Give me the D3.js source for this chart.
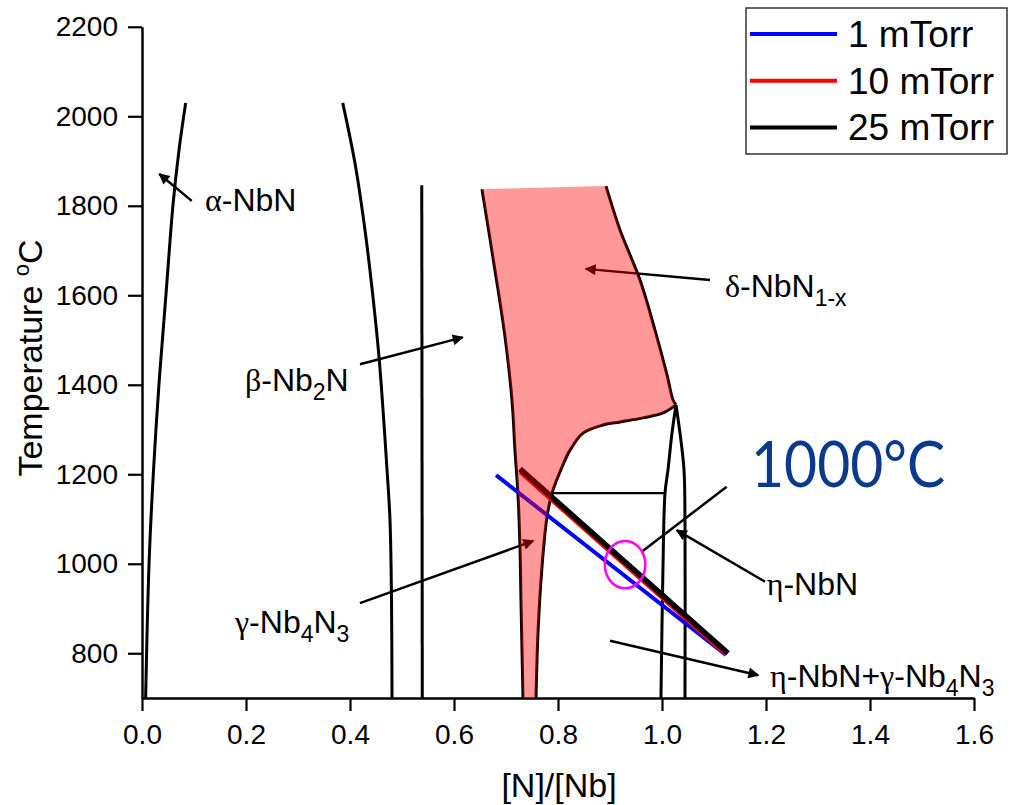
<!DOCTYPE html>
<html>
<head>
<meta charset="utf-8">
<script src="https://cdn.jsdelivr.net/npm/d3@7"></script>
<style>
  body { margin: 0; background: #fff; }
  svg { display: block; font-family: "Liberation Sans", Arial, sans-serif; }
</style>
</head>
<body>
<svg id="chart" width="1016" height="805"></svg>
<script>
// ---- ticks
const xMajor = [0, 0.2, 0.4, 0.6, 0.8, 1.0, 1.2, 1.4, 1.6];
const xMinor = [0.1, 0.3, 0.5, 0.7, 0.9, 1.1, 1.3, 1.5];
const yMajor = [800, 1000, 1200, 1400, 1600, 1800, 2000, 2200];
const yMinor = [700, 900, 1100, 1300, 1500, 1700, 1900, 2100];

// ---- phase boundaries, [N]/[Nb] vs T (°C)
const alphaLine = [[0.007,700],[0.0135,999],[0.0217,1200],[0.0327,1402],[0.0462,1603],[0.0596,1802],[0.0712,1925],[0.084,2030]];
const betaLeft = [[0.386,2030],[0.4096,1895],[0.4288,1746],[0.4442,1596],[0.4558,1462],[0.4635,1344],[0.4712,1210],[0.4769,1098],[0.4798,919],[0.4808,700]];
const betaRight = [[0.538,1846],[0.539,700]];
const deltaLeft = [[0.6538,1837],[0.6788,1656],[0.6981,1507],[0.7115,1366],[0.7173,1254],[0.7231,1154],[0.7269,1037],[0.7288,919],[0.7308,807],[0.7327,700]];
const deltaRight = [[0.8923,1844],[0.9192,1746],[0.9577,1634],[0.9865,1522],[1.0096,1422],[1.0212,1366],[1.0269,1355]];
const gammaRight = [[1.0269,1355],[1.0019,1337],[0.9635,1326],[0.9192,1317],[0.8865,1310],[0.8481,1292],[0.8231,1254],[0.8077,1216],[0.7885,1158],[0.7788,1105],[0.7692,993],[0.7615,845],[0.7577,700]];
const etaLeft = [[1.0269,1355],[1.0192,1292],[1.0115,1210],[1.0058,1158],[1.0019,993],[0.998,700]];
const etaRight = [[1.0269,1355],[1.0346,1292],[1.0423,1210],[1.0442,1098],[1.0442,700]];
const tieLine = [[0.7885,1158],[1.0058,1158]];

// ---- pressure lines
const seriesNames = ["1 mTorr", "10 mTorr", "25 mTorr"];
const seriesColors = ["#0000ff", "#ff0000", "#000000"];
const line1 = [[0.681,1198],[1.123,796]];
const line10 = [[0.727,1205],[1.123,797]];
const line25 = [[0.727,1212],[1.127,800]];

// ---- arrows [from, to]
const arrows = [
  [[0.0956,1811],[0.0333,1871]],
  [[0.4192,1446],[0.6167,1506]],
  [[1.0923,1634],[0.8533,1659]],
  [[0.4192,912],[0.7525,1051]],
  [[1.198,960],[1.0283,1075]],
  [[0.90,828],[1.1852,751]]
];
const calloutLine = [[0.961,1027],[1.1244,1172]];
const circleCenter = [0.929, 998];
const circleRadius = [0.039, 53];

// ---- labels: position (data) and parts [text, kind]
const labelPos = [[0.1212,1788],[0.198,1385],[1.121,1597],[0.1788,845],[1.2013,930],[1.2077,725]];
const labelParts = [
  [["α","g"],["-NbN",""]],
  [["β","g"],["-Nb",""],["2","s"],["N",""]],
  [["δ","g"],["-NbN",""],["1-x","s"]],
  [["γ","g"],["-Nb",""],["4","s"],["N",""],["3","s"]],
  [["η","g"],["-NbN",""]],
  [["η","g"],["-NbN+",""],["γ","g"],["-Nb",""],["4","s"],["N",""],["3","s"]]
];

const svg = d3.select("#chart");
const x = d3.scaleLinear().domain([0, 1.6]).range([142, 974]);
const y = d3.scaleLinear().domain([700, 2200]).range([698, 26.8]);

// arrow head
svg.append("defs").append("marker")
  .attr("id", "head")
  .attr("viewBox", "0 -5 10 10")
  .attr("refX", 9).attr("refY", 0)
  .attr("markerWidth", 19).attr("markerHeight", 11)
  .attr("markerUnits", "userSpaceOnUse")
  .attr("orient", "auto")
  .append("path").attr("d", "M0,-5L10,0L0,5Z").attr("fill", "#000");

// axes
const gx = svg.append("g").attr("transform", `translate(0,${y(700)})`);
gx.call(d3.axisBottom(x).tickValues(xMinor).tickSize(6).tickSizeOuter(0).tickFormat(""));
gx.call(d3.axisBottom(x).tickValues(xMajor).tickSize(13).tickPadding(13).tickSizeOuter(0).tickFormat(d3.format(".1f")));
const gy = svg.append("g").attr("transform", `translate(${x(0)},0)`);
gy.call(d3.axisLeft(y).tickValues(yMinor).tickSize(7).tickSizeOuter(0).tickFormat(""));
gy.call(d3.axisLeft(y).tickValues(yMajor).tickSize(14).tickPadding(10).tickSizeOuter(0).tickFormat(d3.format("d")));
svg.selectAll(".domain").attr("stroke", "#000").attr("stroke-width", 2.5);
svg.selectAll(".tick line").attr("stroke", "#000").attr("stroke-width", 2.2);
svg.selectAll(".tick text").attr("font-size", 28).attr("font-family", "Liberation Sans, Arial, sans-serif").attr("fill", "#000");

// axis titles
svg.append("text").attr("x", 559).attr("y", 797).attr("text-anchor", "middle")
  .attr("font-size", 34).text("[N]/[Nb]");
const yt = svg.append("text").attr("transform", "translate(42,358) rotate(-90)")
  .attr("text-anchor", "middle").attr("font-size", 34);
yt.append("tspan").text("Temperature ");
yt.append("tspan").attr("font-size", 22).attr("dy", -13).text("o");
yt.append("tspan").attr("dy", 13).text("C");

// boundaries
const smooth = d3.line().x(d => x(d[0])).y(d => y(d[1])).curve(d3.curveCatmullRom);
const straight = d3.line().x(d => x(d[0])).y(d => y(d[1]));
const plot = svg.append("g").attr("fill", "none").attr("stroke", "#000");
[alphaLine, betaLeft, deltaLeft, deltaRight, gammaRight, etaLeft, etaRight].forEach(p => {
  plot.append("path").attr("d", smooth(p)).attr("stroke-width", 3);
});
plot.append("path").attr("d", straight(betaRight)).attr("stroke-width", 3);
plot.append("path").attr("d", straight(tieLine)).attr("stroke-width", 2.2);

// pressure lines
[line1, line10, line25].forEach((p, i) => {
  plot.append("path").attr("d", straight(p))
    .attr("stroke", seriesColors[i]).attr("stroke-width", i == 2 ? 5.5 : 4);
});

// arrows
arrows.forEach(a => {
  plot.append("path").attr("d", straight(a)).attr("stroke-width", 2.5)
    .attr("marker-end", "url(#head)");
});
plot.append("path").attr("d", straight(calloutLine)).attr("stroke-width", 2.5);
plot.append("ellipse")
  .attr("cx", x(circleCenter[0])).attr("cy", y(circleCenter[1]))
  .attr("rx", x(circleRadius[0]) - x(0)).attr("ry", y(700) - y(700 + circleRadius[1]))
  .attr("stroke", "#ff00ff").attr("stroke-width", 2.5);

// delta region fill (translucent red on top)
const region = deltaLeft.concat(gammaRight.slice().reverse(), deltaRight.slice().reverse());
svg.append("path")
  .attr("d", d3.line().x(d => x(d[0])).y(d => y(d[1])).curve(d3.curveLinearClosed)(region))
  .attr("fill", "#ff0000").attr("fill-opacity", 0.4).attr("stroke", "none");

// phase labels
labelParts.forEach((parts, i) => {
  const t = svg.append("text").attr("x", x(labelPos[i][0])).attr("y", y(labelPos[i][1]))
    .attr("font-size", 32).attr("fill", "#000");
  let shifted = false;
  parts.forEach(([s, kind]) => {
    const ts = t.append("tspan").text(s);
    if (kind == "g") ts.attr("font-family", "Liberation Serif, serif").attr("font-size", 32);
    if (kind == "s") {
      ts.attr("font-size", 23);
      if (!shifted) { ts.attr("dy", 9); shifted = true; }
    } else if (shifted) {
      ts.attr("dy", -9); shifted = false;
    }
  });
});

// 1000 C
svg.append("text").attr("x", 751).attr("y", 487)
  .attr("font-family", "Lato, 'Open Sans', sans-serif").attr("font-size", 64)
  .attr("textLength", 194).attr("lengthAdjust", "spacingAndGlyphs")
  .attr("fill", "#0b3a8c").text("1000°C");

// legend
const lg = svg.append("g");
lg.append("rect").attr("x", 746).attr("y", 8).attr("width", 261).attr("height", 146)
  .attr("fill", "#fff").attr("stroke", "#333").attr("stroke-width", 1.5);
seriesNames.forEach((name, i) => {
  const ly = 34 + i * 46.7;
  lg.append("line").attr("x1", 750).attr("x2", 837).attr("y1", ly).attr("y2", ly)
    .attr("stroke", seriesColors[i]).attr("stroke-width", 4);
  lg.append("text").attr("x", 848).attr("y", ly + 13).attr("font-size", 37)
    .attr("fill", "#000").text(name);
});
</script>
</body>
</html>
